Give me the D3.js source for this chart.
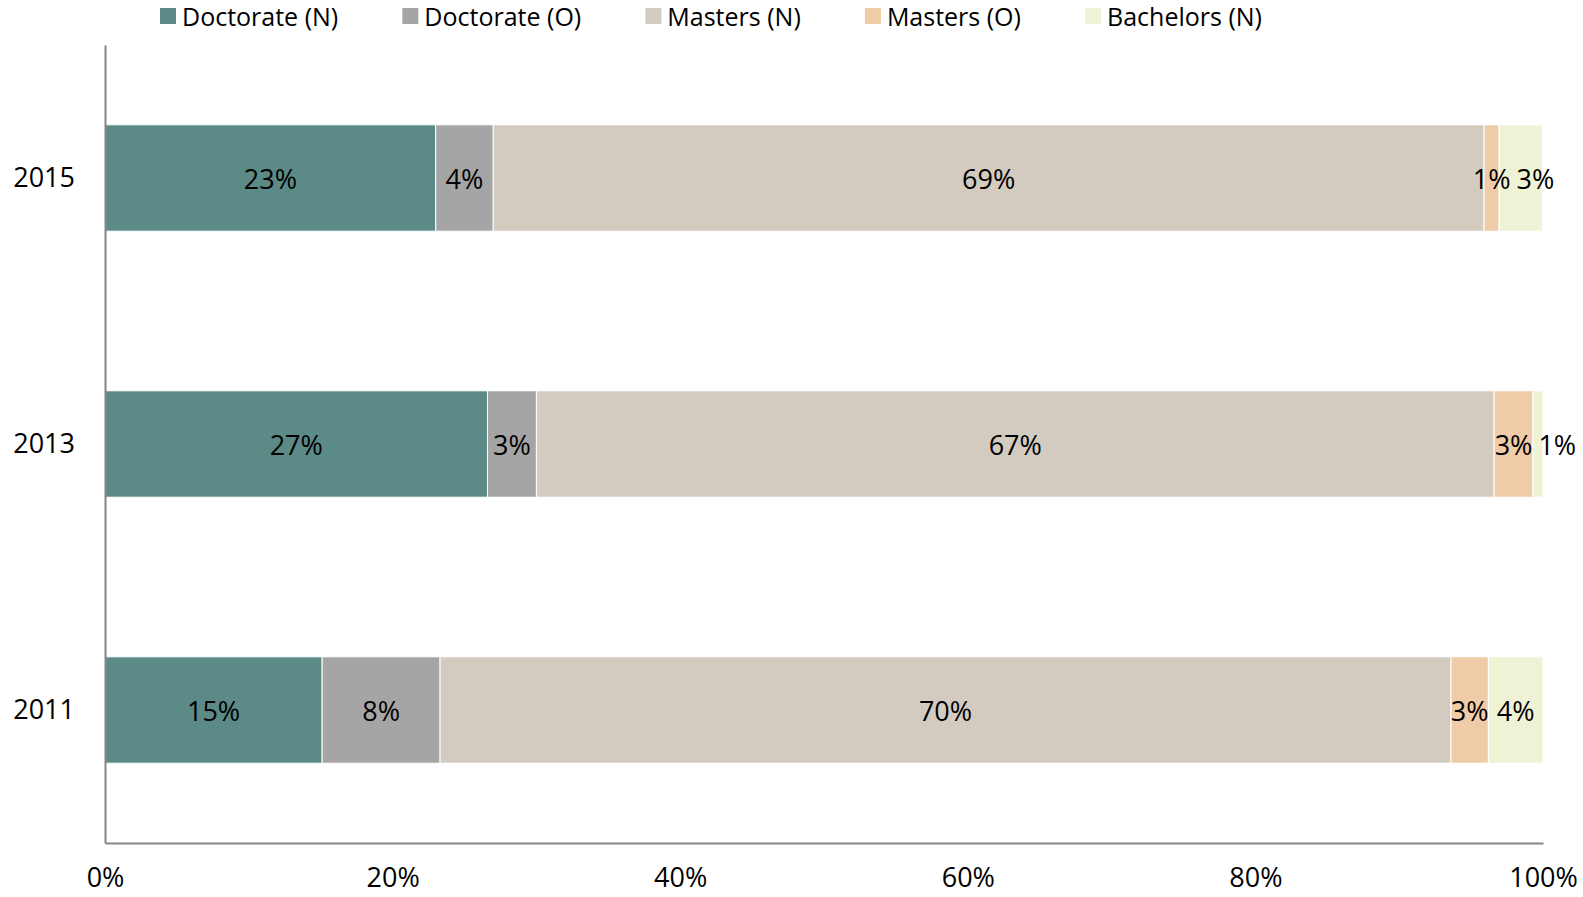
<!DOCTYPE html>
<html>
<head>
<meta charset="utf-8">
<script src="https://cdn.jsdelivr.net/npm/d3@7"></script>
<style>
  body { margin: 0; background: #fff; }
  text { font-family: "Open Sans", "Noto Sans", sans-serif; fill: #000; }
</style>
</head>
<body>
<script>
// data
var years = ["2011", "2013", "2015"];
var seriesNames = ["Doctorate (N)", "Doctorate (O)", "Masters (N)", "Masters (O)", "Bachelors (N)"];
var colors = ["#5b8a87", "#a5a5a5", "#d3cbbf", "#f0cba8", "#f0f2d5"];
var doctorateN = [0.151, 0.266, 0.230];
var doctorateO = [0.082, 0.034, 0.040];
var mastersN   = [0.703, 0.666, 0.689];
var mastersO   = [0.026, 0.027, 0.0105];
var bachelorsN = [0.038, 0.007, 0.030];
var xTicks = [0, 0.2, 0.4, 0.6, 0.8, 1];

var width = 1583, height = 897;
var margin = {top: 45, right: 40, bottom: 54, left: 105};
var fontSize = 27;

var svg = d3.select("body").append("svg")
    .attr("width", width)
    .attr("height", height);

var x = d3.scaleLinear()
    .domain([0, 1])
    .range([margin.left, width - margin.right]);

var y = d3.scaleBand()
    .domain(years)
    .range([height - margin.bottom, margin.top])
    .paddingInner(0.6)
    .paddingOuter(0.3);

var rows = years.map(function(yr, i) {
  return {year: yr, "Doctorate (N)": doctorateN[i], "Doctorate (O)": doctorateO[i],
    "Masters (N)": mastersN[i], "Masters (O)": mastersO[i], "Bachelors (N)": bachelorsN[i]};
});

var stacked = d3.stack().keys(seriesNames)(rows);
var color = d3.scaleOrdinal().domain(seriesNames).range(colors);

var layers = svg.append("g").selectAll("g")
    .data(stacked)
  .enter().append("g")
    .attr("fill", function(d) { return color(d.key); });

layers.selectAll("rect")
    .data(function(d) { return d; })
  .enter().append("rect")
    .attr("x", function(d) { return x(d[0]); })
    .attr("y", function(d) { return y(d.data.year); })
    .attr("width", function(d) { return x(d[1]) - x(d[0]); })
    .attr("height", y.bandwidth())
    .attr("stroke", "#fff")
    .attr("stroke-width", 1);

// data labels, nudged right when they would run into the previous one
var fmt = d3.format(".0%");
var labelG = svg.append("g");
years.forEach(function(yr) {
  var lastRight = -Infinity;
  stacked.forEach(function(layer) {
    var d = layer.find(function(e) { return e.data.year === yr; });
    var cx = (x(d[0]) + x(d[1])) / 2;
    var t = labelG.append("text")
        .attr("text-anchor", "middle")
        .attr("dominant-baseline", "central")
        .attr("font-size", fontSize)
        .attr("y", y(yr) + y.bandwidth() / 2)
        .attr("x", cx)
        .text(fmt(d[1] - d[0]));
    var w = t.node().getComputedTextLength();
    if (cx - w / 2 < lastRight + 6) {
      cx = lastRight + 6 + w / 2;
      t.attr("x", cx);
    }
    lastRight = cx + w / 2;
  });
});

// axes
var xAxis = svg.append("g")
    .attr("transform", "translate(0," + (height - margin.bottom) + ")")
    .call(d3.axisBottom(x).tickValues(xTicks).tickFormat(d3.format(".0%")).tickSize(0).tickPadding(25));
xAxis.select(".domain").attr("stroke", "#868686").attr("stroke-width", 2);
xAxis.selectAll("text").attr("font-size", fontSize).attr("font-family", null);

var yAxis = svg.append("g")
    .attr("transform", "translate(" + margin.left + ",0)")
    .call(d3.axisLeft(y).tickSize(0).tickPadding(30));
yAxis.select(".domain").attr("stroke", "#868686").attr("stroke-width", 2);
yAxis.selectAll("text").attr("font-size", fontSize).attr("font-family", null);

// legend: spread the entries over the same span as the original
var legendLeft = 160, legendRight = 1262, legendFont = 25;
var legend = svg.append("g").attr("transform", "translate(" + legendLeft + ",16)");
var items = seriesNames.map(function(name, i) {
  var item = legend.append("g");
  item.append("rect")
      .attr("x", 0).attr("y", -8)
      .attr("width", 16).attr("height", 16)
      .attr("fill", colors[i]);
  var t = item.append("text")
      .attr("x", 22)
      .attr("dominant-baseline", "central")
      .attr("font-size", legendFont)
      .text(name);
  return {g: item, w: 22 + t.node().getComputedTextLength()};
});
var totalW = d3.sum(items, function(d) { return d.w; });
var gap = (legendRight - legendLeft - totalW) / (items.length - 1);
var lx = 0;
items.forEach(function(it) {
  it.g.attr("transform", "translate(" + lx + ",0)");
  lx += it.w + gap;
});
</script>
</body>
</html>
